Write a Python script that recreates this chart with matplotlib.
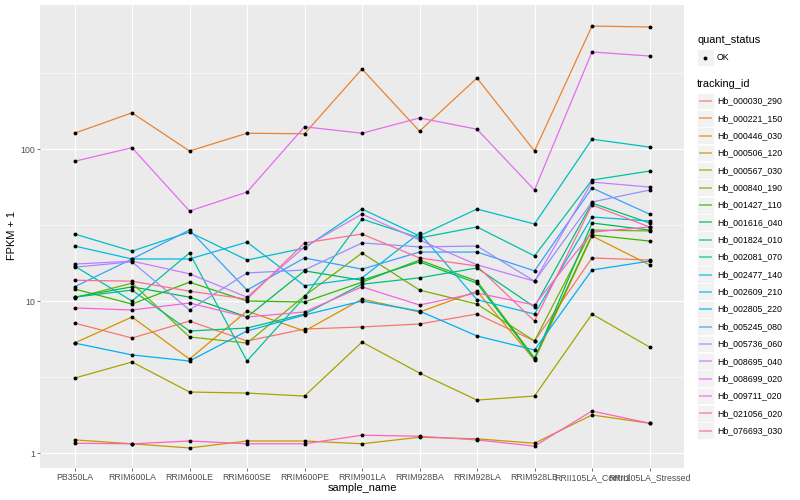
import numpy as np
import matplotlib.pyplot as plt
from matplotlib.lines import Line2D
from matplotlib.patches import Rectangle

plt.rcParams['font.family'] = ['Liberation Sans', 'DejaVu Sans']

samples = ['PB350LA', 'RRIM600LA', 'RRIM600LE', 'RRIM600SE', 'RRIM600PE',
           'RRIM901LA', 'RRIM928BA', 'RRIM928LA', 'RRIM928LB',
           'RRII105LA_Control', 'RRII105LA_Stressed']

# FPKM + 1 per gene, one value per sample
hb_000030_290 = [7.16, 5.71, 7.38, 5.46, 6.54, 6.75, 7.06, 8.21, 5.46, 19.2, 18.6]
hb_000221_150 = [127, 173, 97, 127, 126, 336, 131, 293, 97, 644, 635]
hb_000446_030 = [5.29, 7.85, 4.15, 8.59, 6.35, 10.3, 8.47, 11.6, 4.09, 26.8, 17.3]
hb_000506_120 = [1.22, 1.15, 1.08, 1.20, 1.20, 1.15, 1.27, 1.24, 1.16, 1.78, 1.57]
hb_000567_030 = [3.11, 3.97, 2.52, 2.48, 2.37, 5.37, 3.36, 2.23, 2.37, 8.21, 4.98]
hb_000840_190 = [10.5, 13.1, 5.80, 5.29, 10.8, 20.7, 11.8, 9.55, 5.46, 29.3, 28.9]
hb_001427_110 = [12.0, 9.55, 13.3, 10.0, 9.85, 13.3, 18.6, 13.5, 4.22, 27.2, 24.8]
hb_001616_040 = [10.6, 12.4, 10.6, 7.85, 15.8, 13.7, 18.1, 13.1, 4.15, 32.6, 29.3]
hb_001824_010 = [10.6, 11.8, 6.35, 6.64, 8.21, 12.9, 14.2, 16.5, 9.14, 44.1, 32.6]
hb_002081_070 = [17.0, 10.0, 20.7, 4.03, 10.6, 34.6, 26.0, 30.7, 19.8, 62.5, 71.6]
hb_002477_140 = [27.6, 21.3, 28.4, 18.6, 22.3, 40.3, 26.8, 40.3, 32.1, 116, 103]
hb_002609_210 = [23.0, 18.9, 18.9, 24.4, 12.6, 14.2, 28.0, 10.2, 8.21, 35.7, 33.6]
hb_002805_220 = [5.29, 4.42, 4.03, 6.35, 8.09, 10.0, 8.59, 5.89, 4.76, 16.0, 18.3]
hb_005245_080 = [12.4, 18.9, 29.3, 11.8, 19.2, 16.2, 21.0, 21.0, 15.8, 55.4, 37.3]
hb_005736_060 = [16.7, 18.1, 8.73, 15.3, 16.0, 24.1, 22.7, 23.0, 13.5, 44.8, 53.7]
hb_008695_040 = [17.5, 18.3, 15.1, 10.6, 22.7, 37.3, 25.2, 17.3, 13.5, 60.6, 56.2]
hb_008699_020 = [83, 102, 39.1, 52.1, 140, 127, 160, 135, 53.7, 435, 409]
hb_009711_020 = [9.00, 8.73, 9.70, 7.85, 8.47, 12.4, 9.41, 11.3, 9.41, 28.4, 30.7]
hb_021056_020 = [1.16, 1.15, 1.20, 1.15, 1.15, 1.31, 1.29, 1.22, 1.11, 1.89, 1.57]
hb_076693_030 = [13.7, 13.5, 11.6, 10.3, 24.1, 27.6, 19.2, 17.0, 7.38, 42.8, 30.7]

tracking_ids = ['Hb_000030_290', 'Hb_000221_150', 'Hb_000446_030', 'Hb_000506_120',
                'Hb_000567_030', 'Hb_000840_190', 'Hb_001427_110', 'Hb_001616_040',
                'Hb_001824_010', 'Hb_002081_070', 'Hb_002477_140', 'Hb_002609_210',
                'Hb_002805_220', 'Hb_005245_080', 'Hb_005736_060', 'Hb_008695_040',
                'Hb_008699_020', 'Hb_009711_020', 'Hb_021056_020', 'Hb_076693_030']
series = [hb_000030_290, hb_000221_150, hb_000446_030, hb_000506_120, hb_000567_030,
          hb_000840_190, hb_001427_110, hb_001616_040, hb_001824_010, hb_002081_070,
          hb_002477_140, hb_002609_210, hb_002805_220, hb_005245_080, hb_005736_060,
          hb_008695_040, hb_008699_020, hb_009711_020, hb_021056_020, hb_076693_030]

# ggplot hue palette, 20 levels
colors = ['#F8766D', '#EA8331', '#D89000', '#C09B00', '#A3A500', '#7CAE00', '#39B600',
          '#00BB4E', '#00BF7D', '#00C1A3', '#00BFC4', '#00BAE0', '#00B0F6', '#35A2FF',
          '#9590FF', '#C77CFF', '#E76BF3', '#FA62DB', '#FF62BC', '#FF6C91']

W, H = 800, 500
fig = plt.figure(figsize=(8, 5), dpi=100)
ax = fig.add_axes([40 / W, 1 - 468 / H, (684 - 40) / W, (468 - 5) / H])
ax.set_facecolor('#EBEBEB')

x = np.arange(len(samples))
for vals, c in zip(series, colors):
    ax.plot(x, vals, color=c, lw=0.9, zorder=2)
for vals in series:
    ax.plot(x, vals, 'o', color='black', ms=2.8, mew=0, zorder=3)

ax.set_yscale('log')
ax.set_ylim(0.797, 886)
ax.set_xlim(-0.6, 10.6)
ax.set_xticks(x)
ax.set_xticklabels(samples)
ax.set_yticks([1, 10, 100])
ax.set_yticklabels(['1', '10', '100'])
ax.set_yticks([10 ** 0.5, 10 ** 1.5, 10 ** 2.5], minor=True)
ax.set_yticklabels([], minor=True)
ax.tick_params(axis='y', which='minor', length=0)
ax.grid(which='major', color='white', lw=0.8)
ax.grid(which='minor', axis='y', color='white', lw=0.4)
ax.set_axisbelow(True)
for s in ax.spines.values():
    s.set_visible(False)
ax.tick_params(which='major', length=2, width=0.5, color='#333333',
               labelsize=6.3, labelcolor='#4D4D4D', pad=1.6)

fig.text(362 / W, 1 - 488 / H, 'sample_name', ha='center', va='center', fontsize=7.9)
fig.text(12 / W, 1 - 236 / H, 'FPKM + 1', ha='center', va='center', rotation=90, fontsize=7.9)

# legends drawn by hand, ggplot style
def key_box(yc):
    fig.patches.append(Rectangle((697 / W, 1 - (yc + 8.4) / H), 16.8 / W, 16.8 / H,
                                 transform=fig.transFigure, facecolor='#F2F2F2',
                                 edgecolor='white', lw=0.5, zorder=1))

fig.text(697 / W, 1 - 40 / H, 'quant_status', ha='left', va='center', fontsize=7.9)
key_box(57.5)
fig.add_artist(Line2D([705.4 / W], [1 - 57.5 / H], marker='o', color='black', ms=2.8, mew=0,
                      transform=fig.transFigure, zorder=3))
fig.text(717 / W, 1 - 57.5 / H, 'OK', ha='left', va='center', fontsize=6.3)

fig.text(697 / W, 1 - 84 / H, 'tracking_id', ha='left', va='center', fontsize=7.9)
for i, (tid, c) in enumerate(zip(tracking_ids, colors)):
    yc = 101 + i * 17.35
    key_box(yc)
    fig.add_artist(Line2D([699 / W, 712 / W], [1 - yc / H] * 2, color=c, lw=1.2, alpha=0.7,
                          solid_capstyle='butt', transform=fig.transFigure, zorder=3))
    fig.text(717 / W, 1 - yc / H, tid, ha='left', va='center', fontsize=6.3)

fig.savefig('out.png', dpi=100)
